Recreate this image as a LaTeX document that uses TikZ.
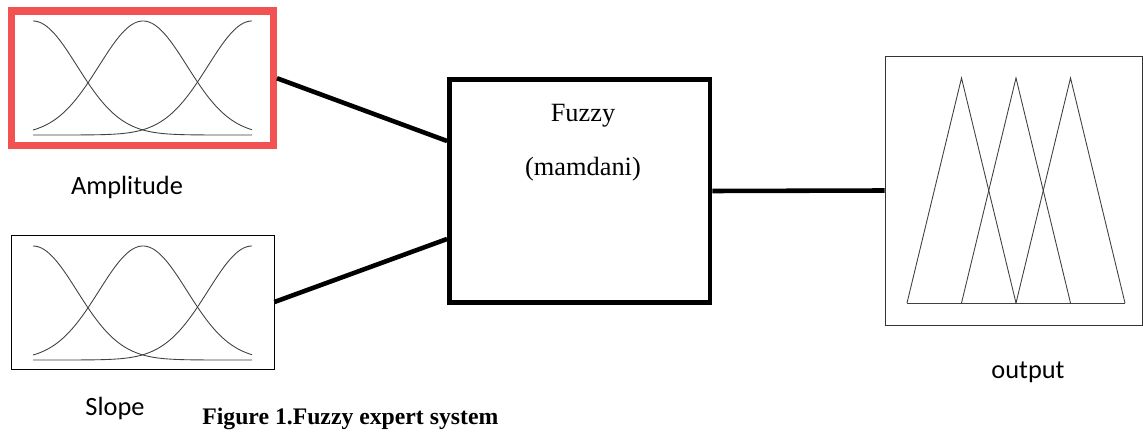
\documentclass[tikz,border=0pt]{standalone}
\usepackage{fontspec}
\setmainfont{Liberation Serif}
\newfontfamily\labelfont{Carlito}
\definecolor{ampred}{RGB}{242,82,82}
\begin{document}
\begin{tikzpicture}[x=0.02cm,y=-0.02cm,
        box/.style={draw,line width=0.5pt,inner sep=0pt},
        mf/.style={black!75,line width=0.5pt},
        conn/.style={line width=2.6pt},
        lbl/.style={font=\labelfont\fontsize{15}{18}\selectfont,anchor=base,inner sep=0pt}]
        \useasboundingbox (0,0) rectangle (1143,432);
        % input and output boxes
        \node [box,draw=ampred,line width=4pt,minimum width=5.24cm,minimum height=2.69cm] (amp) at (142.5,78.25) {};
        \node [box,minimum width=5.26cm,minimum height=2.68cm] (slope) at (142.5,302) {};
        \node [box,line width=2.8pt,minimum width=5.21cm,minimum height=4.46cm] (fuzzy) at (579.75,191) {};
        \node [box,draw=black!80,minimum width=5.14cm,minimum height=5.38cm] (out) at (1013.5,190.5) {};
        % gaussian sets
        \foreach \yb in {135,360}
            \foreach \c in {33,143,252}
                \draw [mf] plot [domain=33:252,samples=80,smooth] (\x,{\yb-114*exp(-0.5*((\x-\c)/44)^2)});
        % triangular sets
        \draw [mf] (907,303)--(1125,303);
        \foreach \a in {907,961.5,1016}
            \draw [mf] (\a,303)--(\a+54.5,78)--(\a+109,303);
        % texts
        \node [font=\fontsize{15}{18}\selectfont,anchor=base,inner sep=0pt] (fuzzytitle) at (583,122) {Fuzzy};
        \node [font=\fontsize{15}{18}\selectfont,anchor=base,inner sep=0pt] (fuzzysub) at (583,176) {(mamdani)};
        \node [lbl] (lblamp) at (127,195) {Amplitude};
        \node [lbl] (lblslope) at (115,415) {Slope};
        \node [lbl] (lblout) at (1028,378) {output};
        \node [font=\bfseries\fontsize{13.5}{16}\selectfont,anchor=base west,inner sep=0pt] (caption) at (202,424) {Figure 1.Fuzzy expert system};
        % connectors
        \draw [conn] (amp.east)--([yshift=1cm]fuzzy.west);
        \draw [conn] (slope.east)--([yshift=-0.96cm]fuzzy.west);
        \draw [conn] (fuzzy.east)--(out.west);
    \end{tikzpicture}
\end{document}
